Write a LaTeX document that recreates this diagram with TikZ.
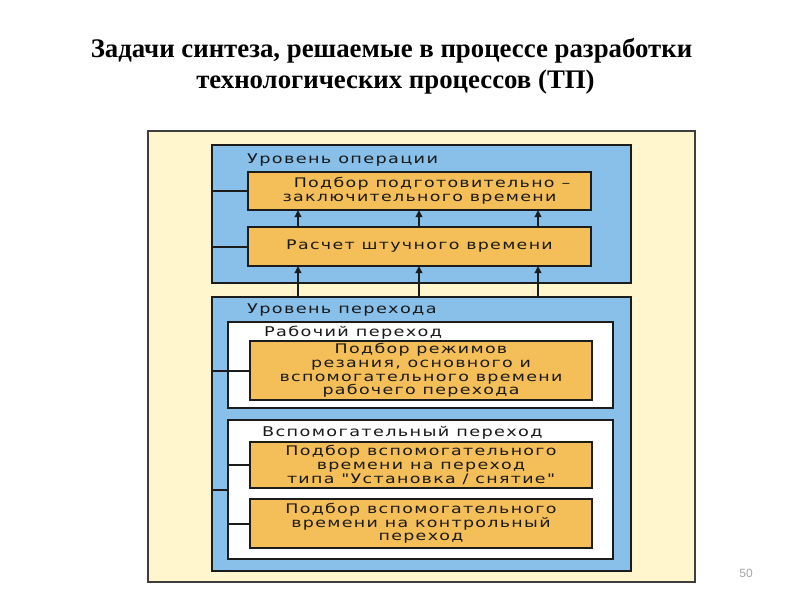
\documentclass[tikz,border=0pt]{standalone}
\usepackage{fontspec}
\setmainfont{Liberation Serif}
\newfontfamily\gost[FakeStretch=1.32,LetterSpace=10]{DejaVu Sans}
\newfontfamily\pagefont{Liberation Sans}
\usetikzlibrary{arrows.meta}
\definecolor{cream}{RGB}{255,246,206}
\definecolor{skyblue}{RGB}{136,192,234}
\definecolor{orangebox}{RGB}{244,190,88}
\definecolor{edge}{RGB}{28,28,28}
\begin{document}
\begin{tikzpicture}[x=1pt,y=-1pt,
  box/.style={draw=edge,line width=2pt,inner sep=0pt,outer sep=0pt},
  outerbox/.style={draw=edge!85,line width=1.3pt,fill=cream,inner sep=0pt,outer sep=0pt},
  bluebox/.style={box,fill=skyblue},
  whitebox/.style={box,fill=white},
  taskbox/.style={box,fill=orangebox,align=center,font=\gost\fontsize{13.2}{13.6}\selectfont,text=black!90},
  lbl/.style={anchor=base west,inner sep=0pt,font=\gost\fontsize{13.4}{14}\selectfont,text=black!90},
  conn/.style={draw=edge,line width=2pt},
  uparrow/.style={draw=edge,line width=2.2pt,-{Triangle[length=7pt,width=6.5pt]}},
  titlefont/.style={font=\bfseries\fontsize{26.8}{30}\selectfont}
]
\useasboundingbox (0,0) rectangle (800,600);
\fill[white] (0,0) rectangle (800,600);

% title
\node[titlefont,anchor=base,inner sep=0pt] (t1) at (391.5,57) {Задачи синтеза, решаемые в процессе разработки};
\node[titlefont,anchor=base,inner sep=0pt] (t2) at (395.5,88) {технологических процессов (ТП)};

% frames
\node[outerbox,minimum width=547pt,minimum height=451pt] (outer) at (421.5,356.5) {};
\node[bluebox,minimum width=419pt,minimum height=138pt] (b1) at (421.5,214) {};
\node[bluebox,minimum width=419pt,minimum height=274pt] (b2) at (421.5,434) {};
\node[whitebox,minimum width=385pt,minimum height=86pt] (w1) at (420.5,365) {};
\node[whitebox,minimum width=385pt,minimum height=139pt] (w2) at (420.5,489.5) {};

% level labels
\node[lbl] (l1) at (247,163) {Уровень операции};
\node[lbl] (l2) at (247,313) {Уровень перехода};
\node[lbl] (l3) at (264,336) {Рабочий переход};
\node[lbl] (l4) at (262,436) {Вспомогательный переход};

% task boxes
\node[taskbox,minimum width=343pt,minimum height=38pt] (o1) at (419.5,191) {\hspace*{25pt}Подбор подготовительно –\\заключительного времени};
\node[taskbox,minimum width=343pt,minimum height=39pt] (o2) at (419.5,246.5) {Расчет штучного времени};
\node[taskbox,minimum width=342pt,minimum height=59pt] (o3) at (421,370.5) {Подбор режимов\\резания, основного и\\вспомогательного времени\\рабочего перехода};
\node[taskbox,minimum width=342pt,minimum height=46pt] (o4) at (421,465) {Подбор вспомогательного\\времени на переход\\типа "Установка / снятие"};
\node[taskbox,minimum width=342pt,minimum height=49pt] (o5) at (421,523.5) {Подбор вспомогательного\\времени на контрольный\\переход};

% connectors on the left
\draw[conn] (b1.west |- o1.west) -- (o1.west);
\draw[conn] (b1.west |- o2.west) -- (o2.west);
\draw[conn] (b2.west |- o3.west) -- (o3.west);
\draw[conn] (b2.west |- w2.west) -- (w2.west);
\draw[conn] (w2.west |- o4.west) -- (o4.west);
\draw[conn] (w2.west |- o5.west) -- (o5.west);

% arrows
\coordinate (xa) at (298,0);
\coordinate (xb) at (419,0);
\coordinate (xc) at (538,0);
\foreach \c in {xa,xb,xc}{
  \draw[uparrow] (o2.north -| \c) -- (o1.south -| \c);
  \draw[uparrow] (b2.north -| \c) -- (o2.south -| \c);
}

% page number
\node[font=\pagefont\fontsize{12}{12}\selectfont,text=black!35,anchor=base,inner sep=0pt] (pg) at (746,577) {50};
\end{tikzpicture}
\end{document}
